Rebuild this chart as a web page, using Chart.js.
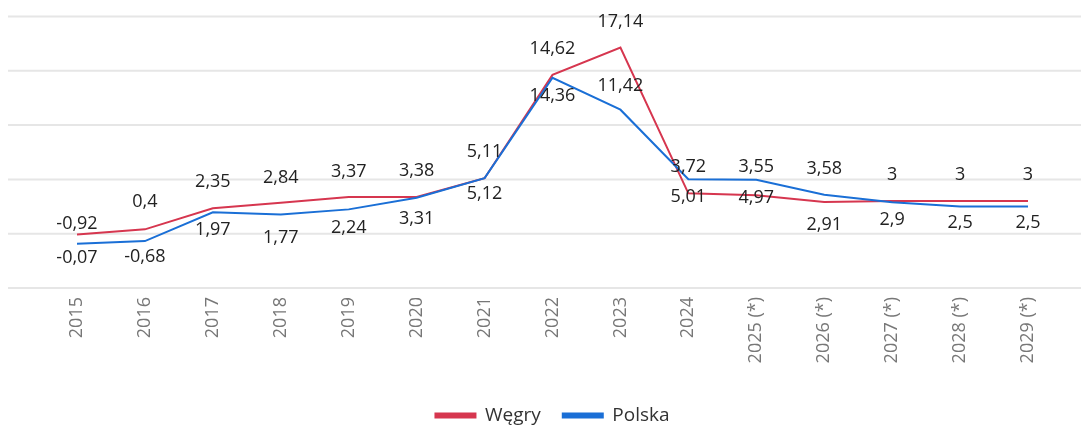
<!DOCTYPE html>
<html><head><meta charset="utf-8">
<script src="https://cdn.jsdelivr.net/npm/chart.js@4.4.1/dist/chart.umd.min.js"></script>
<style>html,body{margin:0;padding:0;background:#fff;}#wrap{width:1081px;height:426px;}</style>
</head><body><div id="wrap"><canvas id="c" width="1081" height="426"></canvas></div>
<script>
const categories = ['2015','2016','2017','2018','2019','2020','2021','2022','2023','2024','2025 (*)','2026 (*)','2027 (*)','2028 (*)','2029 (*)'];
const wegry  = [-0.07, 0.4, 2.35, 2.84, 3.37, 3.38, 5.11, 14.62, 17.14, 3.72, 3.55, 2.91, 3, 3, 3];
const polska = [-0.92, -0.68, 1.97, 1.77, 2.24, 3.31, 5.12, 14.36, 11.42, 5.01, 4.97, 3.58, 2.9, 2.5, 2.5];
const yTicks = [-5, 0, 5, 10, 15, 20];
// label offsets (px) relative to each point: negative = above
const labelDyWegry  = [23, -27, -26, -25, -25, -26, -26, -26, -26, -26, -28, 23, -26, -26, -26];
const labelDyPolska = [-20, 16, 18, 23, 19, 21, 16, 18, -24, 18, 18, -26, 18, 16, 16];

const RED = '#d6364f', BLUE = '#1a6fd6';
const fmt = v => String(v).replace('.', ',');

Chart.defaults.font.family = "'Open Sans', sans-serif";

const gridPlugin = {
  id: 'fullGrid',
  beforeDatasetsDraw(chart) {
    const ctx = chart.ctx, y = chart.scales.y;
    ctx.save();
    ctx.strokeStyle = '#e6e6e6';
    ctx.lineWidth = 2;
    yTicks.forEach(v => {
      const py = y.getPixelForValue(v);
      ctx.beginPath(); ctx.moveTo(8, py); ctx.lineTo(chart.width, py); ctx.stroke();
    });
    ctx.restore();
  }
};

const labelPlugin = {
  id: 'valueLabels',
  afterDatasetsDraw(chart) {
    const ctx = chart.ctx;
    ctx.save();
    ctx.font = "18px 'Open Sans', sans-serif";
    ctx.fillStyle = '#222';
    ctx.textAlign = 'center';
    ctx.textBaseline = 'middle';
    chart.data.datasets.forEach((ds, di) => {
      const meta = chart.getDatasetMeta(di);
      meta.data.forEach((pt, i) => {
        ctx.fillText(fmt(ds.data[i]), pt.x, pt.y + ds.labelDy[i]);
      });
    });
    ctx.restore();
  }
};

new Chart(document.getElementById('c'), {
  type: 'line',
  data: {
    labels: categories,
    datasets: [
      { label: 'Polska', data: polska, borderColor: BLUE, backgroundColor: BLUE, borderWidth: 2, pointRadius: 0, tension: 0, labelDy: labelDyPolska },
      { label: 'Węgry', data: wegry, borderColor: RED, backgroundColor: RED, borderWidth: 2, pointRadius: 0, tension: 0, labelDy: labelDyWegry }
    ]
  },
  options: {
    responsive: false,
    animation: false,
    layout: { padding: { left: 77, right: 53, top: 16.5, bottom: -9 } },
    scales: {
      x: {
        grid: { display: false, drawTicks: false },
        border: { display: false },
        ticks: { color: '#777', font: { size: 18 }, minRotation: 90, maxRotation: 90, padding: 9, autoSkip: false },
        afterFit(scale) { scale.height = 96; }
      },
      y: { display: false, min: -5, max: 20 }
    },
    plugins: {
      tooltip: { enabled: false },
      legend: {
        position: 'bottom',
        reverse: true,
        labels: { boxWidth: 40, boxHeight: 4, padding: 22, color: '#333', font: { size: 19 } }
      }
    }
  },
  plugins: [gridPlugin, labelPlugin]
});
</script>
</body></html>
